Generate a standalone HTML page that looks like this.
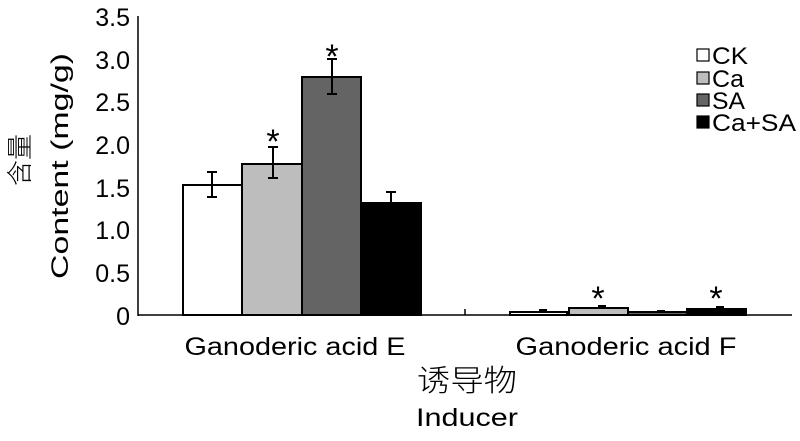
<!DOCTYPE html>
<html><head><meta charset="utf-8"><style>body{margin:0;background:#fff}svg{display:block}</style></head><body>
<svg width="800" height="441" viewBox="0 0 800 441" xmlns="http://www.w3.org/2000/svg" font-family="Liberation Sans, Noto Sans CJK SC, sans-serif">
<rect width="800" height="441" fill="#fff"/>
<g font-size="25" fill="#000" text-anchor="end">
<text x="130" y="26">3.5</text><text x="130" y="69">3.0</text><text x="130" y="111">2.5</text><text x="130" y="154">2.0</text><text x="130" y="197">1.5</text><text x="130" y="239">1.0</text><text x="130" y="282">0.5</text><text x="130" y="325">0</text>
</g>
<line x1="138" y1="16" x2="138" y2="316" stroke="#000" stroke-width="1.5"/>
<line x1="138" y1="315" x2="792" y2="315" stroke="#000" stroke-width="1.5"/>
<line x1="465" y1="309" x2="465" y2="315" stroke="#000" stroke-width="1.5"/>
<text transform="translate(68,166) rotate(-90)" font-size="24" text-anchor="middle" textLength="226" lengthAdjust="spacingAndGlyphs">Content (mg/g)</text>
<text transform="translate(29,160) rotate(-90)" font-size="26" text-anchor="middle" font-family="Noto Sans CJK SC, sans-serif" font-weight="300">含量</text>
<g stroke="#000" stroke-width="2">
<rect x="183" y="185" width="59" height="130" fill="#fff"/>
<rect x="242" y="164" width="60" height="151" fill="#bdbdbd"/>
<rect x="302" y="77" width="59" height="238" fill="#646464"/>
<rect x="361" y="203" width="60" height="112" fill="#000"/>
<rect x="510" y="312" width="57" height="3" fill="#fff"/>
<rect x="569" y="308" width="59" height="7" fill="#bdbdbd"/>
<rect x="628" y="312" width="59" height="3" fill="#646464"/>
<rect x="687" y="309" width="59" height="6" fill="#000"/>
</g>
<g stroke="#000" stroke-width="2">
<path d="M212 172V197M207 172h10M207 197h10"/>
<path d="M273 147V178M268 147h10M268 178h10"/>
<path d="M332 59V94M327 59h10M327 94h10"/>
<path d="M391 192V203M386 192h10"/>
<path d="M539 310h8M598 306h8M657 311h8M716 307h8"/>
</g>
<g font-size="34" text-anchor="middle">
<text x="273" y="153">*</text><text x="332" y="68">*</text><text x="598" y="310">*</text><text x="716" y="310">*</text>
</g>
<g stroke="#000" stroke-width="1.2">
<rect x="697" y="49" width="12" height="12" fill="#fff"/>
<rect x="697" y="72" width="12" height="12" fill="#bdbdbd"/>
<rect x="697" y="94" width="12" height="12" fill="#646464"/>
<rect x="697" y="116" width="12" height="12" fill="#000"/>
</g>
<g font-size="24">
<text x="712" y="64" textLength="36" lengthAdjust="spacingAndGlyphs">CK</text><text x="712" y="87" textLength="32" lengthAdjust="spacingAndGlyphs">Ca</text><text x="712" y="109" textLength="33" lengthAdjust="spacingAndGlyphs">SA</text><text x="712" y="131" textLength="84" lengthAdjust="spacingAndGlyphs">Ca+SA</text>
</g>
<g font-size="25" text-anchor="middle">
<text x="295" y="355" textLength="221" lengthAdjust="spacingAndGlyphs">Ganoderic acid E</text>
<text x="626" y="355" textLength="221" lengthAdjust="spacingAndGlyphs">Ganoderic acid F</text>
<text x="467" y="391" font-size="30" font-family="Noto Sans CJK SC, sans-serif" font-weight="300" textLength="100" lengthAdjust="spacingAndGlyphs">诱导物</text>
<text x="467" y="426" textLength="102" lengthAdjust="spacingAndGlyphs">Inducer</text>
</g>
</svg>
</body></html>
